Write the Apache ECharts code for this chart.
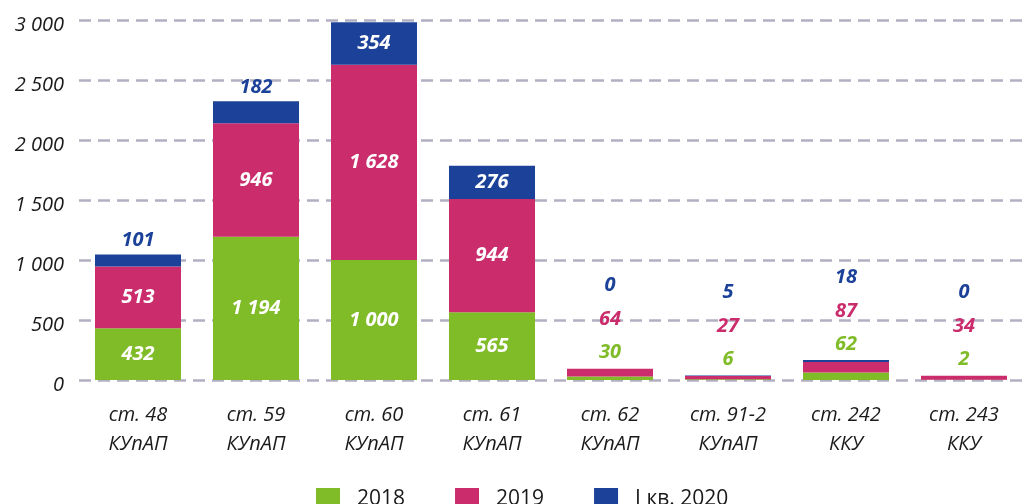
<!DOCTYPE html>
<html>
<head>
<meta charset="utf-8">
<script src="https://cdn.jsdelivr.net/npm/echarts@6/dist/echarts.min.js"></script>
<style>
  html, body { margin: 0; padding: 0; background: #ffffff; }
  #chart { width: 1023px; height: 504px; }
</style>
</head>
<body>
<div id="chart"></div>
<script>
// Categories (article of the code) and values per period
const categories = [
  'ст. 48\nКУпАП', 'ст. 59\nКУпАП', 'ст. 60\nКУпАП', 'ст. 61\nКУпАП',
  'ст. 62\nКУпАП', 'ст. 91-2\nКУпАП', 'ст. 242\nККУ', 'ст. 243\nККУ'
];
const v2018 = [432, 1194, 1000, 565, 30, 6, 62, 2];
const v2019 = [513, 946, 1628, 944, 64, 27, 87, 34];
const vQ1_2020 = [101, 182, 354, 276, 0, 5, 18, 0];
const seriesNames = ['2018', '2019', 'І кв. 2020'];

const GREEN = '#80bb28';
const PINK = '#ca2c6c';
const BLUE = '#1b4298';
const FONT = '"Open Sans", "Noto Sans", sans-serif';

const fmt = n => String(n).replace(/\B(?=(\d{3})+(?!\d))/g, ' ');

const totals = categories.map((_, i) => v2018[i] + v2019[i] + vQ1_2020[i]);
// short stacks get all their numbers written above the bar
const isSmall = i => totals[i] < 300;

const insideLabel = {
  show: true, position: 'inside', color: '#ffffff',
  fontFamily: FONT, fontStyle: 'italic', fontWeight: 'bold', fontSize: 20
};

function lowerData(values) {
  return values.map((v, i) => ({
    value: v,
    label: isSmall(i) ? { show: false } : Object.assign({}, insideLabel, { formatter: () => fmt(v) })
  }));
}

const topData = vQ1_2020.map((v, i) => {
  if (isSmall(i)) {
    return {
      value: v,
      label: {
        show: true, position: 'top', distance: 0,
        fontFamily: FONT, fontStyle: 'italic', fontWeight: 'bold', fontSize: 20,
        formatter: () => `{b|${fmt(vQ1_2020[i])}}\n{p|${fmt(v2019[i])}}\n{g|${fmt(v2018[i])}}`,
        rich: {
          b: { color: BLUE, lineHeight: 34, fontFamily: FONT, fontStyle: 'italic', fontWeight: 'bold', fontSize: 20 },
          p: { color: PINK, lineHeight: 34, fontFamily: FONT, fontStyle: 'italic', fontWeight: 'bold', fontSize: 20 },
          g: { color: GREEN, lineHeight: 32, fontFamily: FONT, fontStyle: 'italic', fontWeight: 'bold', fontSize: 20 }
        }
      }
    };
  }
  if (v < 250) {
    return {
      value: v,
      label: {
        show: true, position: 'top', distance: 4, color: BLUE,
        fontFamily: FONT, fontStyle: 'italic', fontWeight: 'bold', fontSize: 20,
        formatter: () => fmt(v)
      }
    };
  }
  return { value: v, label: Object.assign({}, insideLabel, { formatter: () => fmt(v) }) };
});

const chart = echarts.init(document.getElementById('chart'), null, { renderer: 'canvas' });

chart.setOption({
  animation: false,
  backgroundColor: '#ffffff',
  grid: { left: 79, top: 20, width: 952, height: 360, containLabel: false },
  legend: {
    data: seriesNames,
    left: 311, top: 483,
    icon: 'rect', itemWidth: 24, itemHeight: 22, itemGap: 50,
    textStyle: { fontFamily: FONT, fontSize: 21, color: '#1a1a1a', padding: [0, 0, 0, 12] }
  },
  xAxis: {
    type: 'category',
    data: categories,
    axisLine: { show: false },
    axisTick: { show: false },
    axisLabel: {
      margin: 21, interval: 0,
      fontFamily: FONT, fontStyle: 'italic', fontSize: 20, lineHeight: 29, color: '#1a1a1a'
    }
  },
  yAxis: {
    type: 'value',
    min: 0, max: 3000, interval: 500,
    axisLine: { show: false },
    axisTick: { show: false },
    axisLabel: {
      margin: 15,
      formatter: v => `{t|${fmt(v)}}`,
      rich: {
        t: { padding: [10, 0, 0, 0], fontFamily: FONT, fontStyle: 'italic', fontSize: 20, color: '#1a1a1a' }
      }
    },
    splitLine: { show: true, lineStyle: { color: '#b3afc3', width: 2.5, type: [12, 7] } }
  },
  series: [
    { name: seriesNames[0], type: 'bar', stack: 'total', barWidth: 86, itemStyle: { color: GREEN }, data: lowerData(v2018) },
    { name: seriesNames[1], type: 'bar', stack: 'total', barWidth: 86, itemStyle: { color: PINK }, data: lowerData(v2019) },
    { name: seriesNames[2], type: 'bar', stack: 'total', barWidth: 86, itemStyle: { color: BLUE }, data: topData }
  ]
});
</script>
</body>
</html>
